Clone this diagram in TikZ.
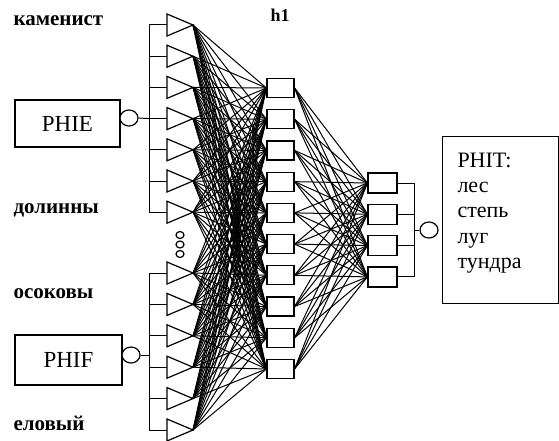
\documentclass[tikz,border=0pt]{standalone}
\usepackage{fontspec}
\setmainfont{Liberation Serif}
\usetikzlibrary{shapes.geometric}

\begin{document}
\begin{tikzpicture}[x=1pt, y=-1pt, line width=1pt,
  tri/.style = {draw, fill=white, line width=1.2pt, line join=miter},
  unit/.style = {draw, fill=white, line width=1.2pt, rectangle, minimum width=27pt, minimum height=19pt, inner sep=0pt},
  outunit/.style = {draw, fill=white, line width=1.2pt, rectangle, minimum width=29pt, minimum height=20pt, inner sep=0pt},
  port/.style = {draw, fill=white, line width=1.2pt, ellipse, minimum width=18pt, minimum height=16pt, inner sep=0pt},
  dot/.style = {draw, line width=1.2pt, ellipse, minimum width=8pt, minimum height=7pt, inner sep=0pt},
  var/.style = {draw, line width=1.2pt, rectangle, inner sep=0pt, font=\fontsize{23}{26}\selectfont},
  lab/.style = {anchor=base west, inner sep=0pt, font=\fontsize{21}{24}\selectfont\bfseries}]
  \useasboundingbox (0,0) rectangle (559,441);
  % input units
  \foreach \i in {1,...,7} {
    \coordinate (e\i) at (167,{25+31.2*(\i-1)});
    \draw[tri] (e\i) ++(0,-11) -- ++(26,11) coordinate (ea\i) -- ++(-26,11) -- cycle;
  }
  \foreach \i in {1,...,6} {
    \coordinate (f\i) at (167,{273+31.4*(\i-1)});
    \draw[tri] (f\i) ++(0,-11) -- ++(26,11) coordinate (fa\i) -- ++(-26,11) -- cycle;
  }
  % hidden and output units
  \foreach \j in {1,...,10}
    \node[unit] (h\j) at (280.5,{88+31.22*(\j-1)}) {};
  \foreach \k in {1,...,4}
    \node[outunit] (o\k) at (382.5,{183+31.3*(\k-1)}) {};
  % weights
  \foreach \j in {1,...,10} {
    \foreach \i in {1,...,7}
      \draw (ea\i) -- (h\j.west);
    \foreach \i in {1,...,6}
      \draw (fa\i) -- (h\j.west);
    \foreach \k in {1,...,4}
      \draw (h\j.east) -- (o\k.west);
  }
  % buses
  \foreach \i in {1,...,7}
    \draw (e\i) -- ++(-18,0);
  \foreach \i in {1,...,6}
    \draw (f\i) -- ++(-18,0);
  \foreach \k in {1,...,4}
    \draw (o\k.east) -- ++(17,0);
  \draw ([xshift=-18pt]e1) -- ([xshift=-18pt]e7);
  \draw ([xshift=-18pt]f1) -- ([xshift=-18pt]f6);
  \draw ([xshift=17pt]o1.east) -- ([xshift=17pt]o4.east);
  % variables
  \node[var, minimum width=105pt, minimum height=47pt] (phie) at (67.5,123.5) {PHIE};
  \node[var, minimum width=107pt, minimum height=50pt] (phif) at (68.5,360) {PHIF};
  \node[var, minimum width=116pt, minimum height=167pt, anchor=north west] (phit) at (442,136) {};
  \node[anchor=north west, align=left, inner sep=0pt, font=\fontsize{22}{25.3}\selectfont] (phitext) at (457,152.4) {PHIT:\\лес\\степь\\луг\\тундра};
  \node[port] (pe) at (129,118) {};
  \node[port] (pf) at (131,355) {};
  \node[port] (pt) at (429,230) {};
  \coordinate (fbus) at (149,355);
  \coordinate (tbus) at (414,230);
  \draw (pe.east) -- ([xshift=-18pt]e4);
  \draw (pf.east) -- (fbus);
  \draw (tbus) -- (pt.west);
  % dots
  \node[dot] (d1) at (180,235) {};
  \node[dot] (d2) at (180,244.5) {};
  \node[dot] (d3) at (180,254) {};
  % labels
  \node[lab] (kam) at (13,26) {каменист};
  \node[lab] (dol) at (13,213) {долинны};
  \node[lab] (oso) at (13,298) {осоковы};
  \node[lab] (elo) at (13,430) {еловый};
  \node[lab, font=\fontsize{18}{22}\selectfont\bfseries] (hid) at (270,22) {h1};
\end{tikzpicture}
\end{document}
